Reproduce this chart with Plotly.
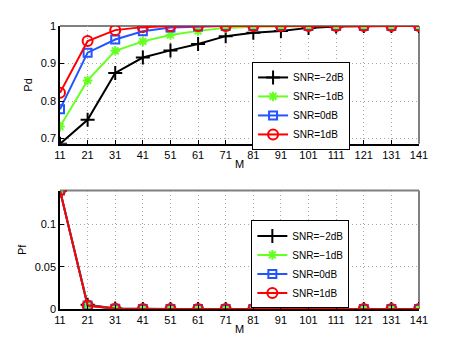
import plotly.graph_objects as go
from plotly.subplots import make_subplots

M = [11, 21, 31, 41, 51, 61, 71, 81, 91, 101, 111, 121, 131, 141]

names = ["SNR=\u22122dB", "SNR=\u22121dB", "SNR=0dB", "SNR=1dB"]

pd_m2 = [0.686, 0.750, 0.875, 0.916, 0.935, 0.952, 0.973, 0.982, 0.987, 0.995, 0.999, 1.0, 1.0, 1.0]
pd_m1 = [0.732, 0.855, 0.934, 0.959, 0.976, 0.987, 0.995, 0.998, 0.999, 1.0, 1.0, 1.0, 1.0, 1.0]
pd_0 = [0.778, 0.929, 0.964, 0.986, 0.996, 0.999, 1.0, 1.0, 1.0, 1.0, 1.0, 1.0, 1.0, 1.0]
pd_1 = [0.822, 0.960, 0.989, 0.997, 1.0, 1.0, 1.0, 1.0, 1.0, 1.0, 1.0, 1.0, 1.0, 1.0]

pf_m2 = [0.140, 0.005, 0.0005, 0, 0, 0, 0, 0, 0, 0, 0, 0, 0, 0]
pf_m1 = [0.140, 0.004, 0.0004, 0, 0, 0, 0, 0, 0, 0, 0, 0, 0, 0]
pf_0 = [0.140, 0.004, 0.0003, 0, 0, 0, 0, 0, 0, 0, 0, 0, 0, 0]
pf_1 = [0.140, 0.004, 0.0003, 0, 0, 0, 0, 0, 0, 0, 0, 0, 0, 0]

colors = ["#000000", "#66ff22", "#2255ff", "#ff0000"]
symbols = ["cross-thin-open", "asterisk-open", "square-open", "circle-open"]
sizes = [10, 8, 8, 10]

fig = make_subplots(rows=2, cols=1)

for i, ys in enumerate([pd_m2, pd_m1, pd_0, pd_1]):
    fig.add_trace(go.Scatter(
        x=M, y=ys, name=names[i], mode="lines+markers",
        line=dict(color=colors[i], width=2),
        marker=dict(symbol=symbols[i], size=sizes[i], color=colors[i],
                    line=dict(color=colors[i], width=2)),
        legend="legend"), row=1, col=1)

for i, ys in enumerate([pf_m2, pf_m1, pf_0, pf_1]):
    fig.add_trace(go.Scatter(
        x=M, y=ys, name=names[i], mode="lines+markers",
        line=dict(color=colors[i], width=2),
        marker=dict(symbol=symbols[i], size=sizes[i], color=colors[i],
                    line=dict(color=colors[i], width=2)),
        legend="legend2"), row=2, col=1)

axis_common = dict(
    showline=True, linecolor="black", linewidth=1.5, mirror=False,
    ticks="inside", ticklen=4, tickcolor="black",
    showgrid=True, gridcolor="#a8a8a8", griddash="1px,3px", gridwidth=1,
    zeroline=False, tickfont=dict(size=11, color="black"),
)

fig.update_xaxes(axis_common, tickvals=M, range=[11, 141])
fig.update_xaxes(domain=[0, 1])
fig.update_layout(
    xaxis=dict(title=dict(text="M", standoff=0, font=dict(size=11))),
    xaxis2=dict(title=dict(text="M", standoff=0, font=dict(size=11))),
    yaxis=dict(axis_common, domain=[0.5835, 1], range=[0.686, 1],
               tickvals=[0.7, 0.8, 0.9, 1], ticktext=["0.7", "0.8", "0.9", "1"],
               title=dict(text="Pd", standoff=6, font=dict(size=11))),
    yaxis2=dict(axis_common, domain=[0, 0.4186], range=[0, 0.14],
                tickvals=[0, 0.05, 0.1], ticktext=["0", "0.05", "0.1"],
                title=dict(text="Pf", standoff=6, font=dict(size=11))),
    legend=dict(x=0.535, y=0.873, xanchor="left", yanchor="top",
                bordercolor="black", borderwidth=1, bgcolor="white",
                font=dict(size=10), tracegroupgap=0, itemwidth=30),
    legend2=dict(x=0.533, y=0.313, xanchor="left", yanchor="top",
                 bordercolor="black", borderwidth=1, bgcolor="white",
                 font=dict(size=10), tracegroupgap=0, itemwidth=30),
    width=463, height=348,
    # the page body adds 8px on the top and left
    margin=dict(l=52, r=52, t=18, b=47),
    paper_bgcolor="white", plot_bgcolor="white",
    font=dict(family="Liberation Sans, Arial, sans-serif", color="black"),
)

# grey top/right frame, as in the original
for xr, yr in [("x domain", "y domain"), ("x2 domain", "y2 domain")]:
    fig.add_shape(type="line", xref=xr, yref=yr, x0=0, x1=1, y0=1, y1=1,
                  line=dict(color="#808080", width=2), layer="below")
    fig.add_shape(type="line", xref=xr, yref=yr, x0=1, x1=1, y0=0, y1=1,
                  line=dict(color="#808080", width=2), layer="below")

fig.write_html("out.html")
